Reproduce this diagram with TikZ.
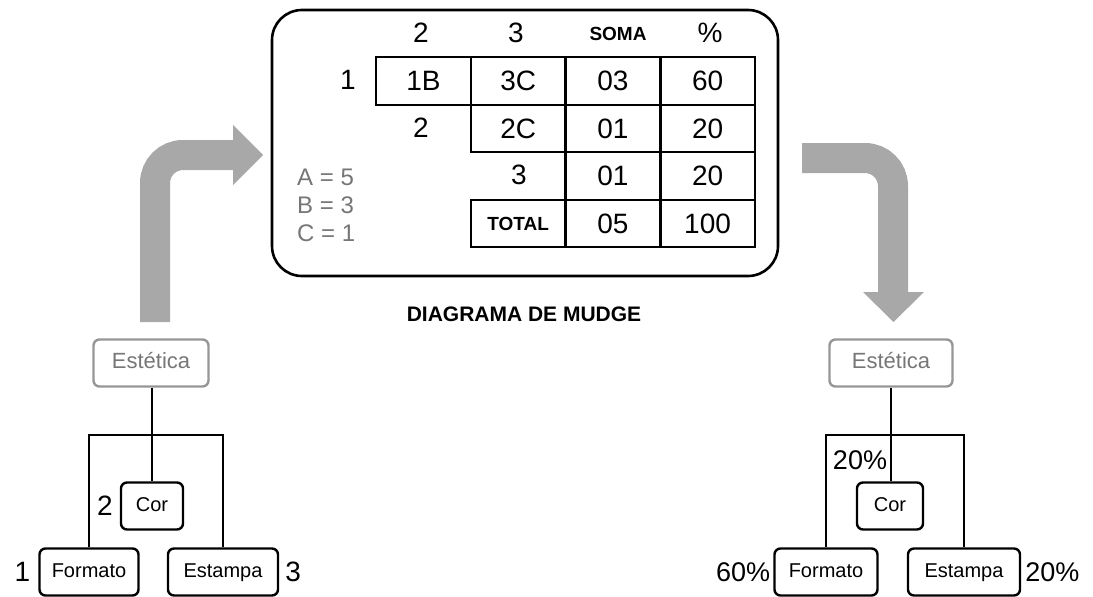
\documentclass[tikz,border=0pt]{standalone}
\usepackage{fontspec}
\setmainfont{Liberation Sans}
\usetikzlibrary{positioning}
\definecolor{arrowgray}{RGB}{168,168,168}
\definecolor{boxgray}{RGB}{150,150,150}
\definecolor{txtgray}{RGB}{118,118,118}
\newcommand{\fs}[1]{\fontsize{#1}{#1}\selectfont}

\begin{document}
\begin{tikzpicture}[
  x=1pt, y=-1pt,
  cell/.style={draw, line width=2.4pt, minimum width=95pt, minimum height=47.5pt, inner sep=0pt, font=\fs{28}},
  num/.style={font=\fs{28}, inner sep=1pt},
  hdr/.style={font=\fs{19}\bfseries, inner sep=1pt},
  leg/.style={font=\fs{24}, text=txtgray, inner sep=1pt, anchor=west},
  leaf/.style={draw, line width=2.4pt, rounded corners=6pt, minimum height=47pt, inner sep=2pt,
    text height=14pt, text depth=4pt, font=\fs{20}},
  rootbox/.style={leaf, draw=boxgray, text=txtgray, font=\fs{22}},
  branch/.style={line width=1.1pt},
  bigarrow/.style={draw=arrowgray, line width=30pt, rounded corners=28pt},
]
  \useasboundingbox (0,0) rectangle (1093,597);

  % ---------------- Mudge table
  \draw[line width=2.6pt, rounded corners=30pt] (272,10) rectangle (778,276);
  \foreach \t/\x in {2/421, 3/516} \node[num] (h\t) at (\x,33) {\t};
  \node[hdr] (hsoma) at (618,34) {SOMA};
  \node[num] (hpct) at (710,33) {\%};
  \node[num] (r1) at (348,80) {1};
  \node[num] (r2) at (421,128) {2};
  \node[num] (r3) at (519,175) {3};
  \foreach \t/\c/\r in {1B/1/1, 3C/2/1, 03/3/1, 60/4/1, 2C/2/2, 01/3/2, 20/4/2, 01/3/3, 20/4/3, 05/3/4, 100/4/4}
    \node[cell] (c\c\r) at ({423.5+94.7*(\c-1)}, {81+47.5*(\r-1)}) {\t};
  \node[cell, font=\fs{19}\bfseries] (c24) at (518.2,223.5) {TOTAL};
  \node[leg] (la) at (296,177) {A = 5};
  \node[leg] (lb) at (296,205) {B = 3};
  \node[leg] (lc) at (296,233) {C = 1};
  \node[font=\fs{21}\bfseries] (title) at (524,314) {DIAGRAMA DE MUDGE};

  % ---------------- big arrows
  \draw[bigarrow] (155,322) -- (155,155) -- (234,155);
  \fill[arrowgray] (233,125) -- (263,155) -- (233,185) -- cycle;
  \draw[bigarrow] (802,158) -- (893,158) -- (893,293);
  \fill[arrowgray] (863,292) -- (924,292) -- (893.5,322) -- cycle;

  % ---------------- tree before
  \node[rootbox, minimum width=115pt] (estL) at (151,363) {Estética};
  \node[leaf, minimum width=62pt] (corL) at (152,506) {Cor};
  \node[leaf, minimum width=99pt] (fmtL) at (89,572) {Formato};
  \node[leaf, minimum width=110pt] (estpL) at (223,572) {Estampa};
  \coordinate (brL) at (152,435);
  \draw[branch] (estL.south -| corL) -- (corL.north);
  \draw[branch] (fmtL.north) |- (brL) -| (estpL.north);
  \node[num, left=6pt of corL] (nCor) {2};
  \node[num, left=7pt of fmtL] (nFmt) {1};
  \node[num, right=5pt of estpL] (nEst) {3};

  % ---------------- tree after
  \node[rootbox, minimum width=123pt] (estR) at (891,363) {Estética};
  \node[leaf, minimum width=66pt] (corR) at (890,506) {Cor};
  \node[leaf, minimum width=103pt] (fmtR) at (826,572) {Formato};
  \node[leaf, minimum width=112pt] (estpR) at (964,572) {Estampa};
  \coordinate (brR) at (890,435);
  \draw[branch] (estR.south) -- (estR.south |- corR.north);
  \draw[branch] (fmtR.north) |- (brR) -| (estpR.north);
  \node[num, font=\fs{27}] (pCor) at (860,460) {20\%};
  \node[num, font=\fs{27}, left=2pt of fmtR] (pFmt) {60\%};
  \node[num, font=\fs{27}, right=3pt of estpR] (pEst) {20\%};
\end{tikzpicture}
\end{document}
